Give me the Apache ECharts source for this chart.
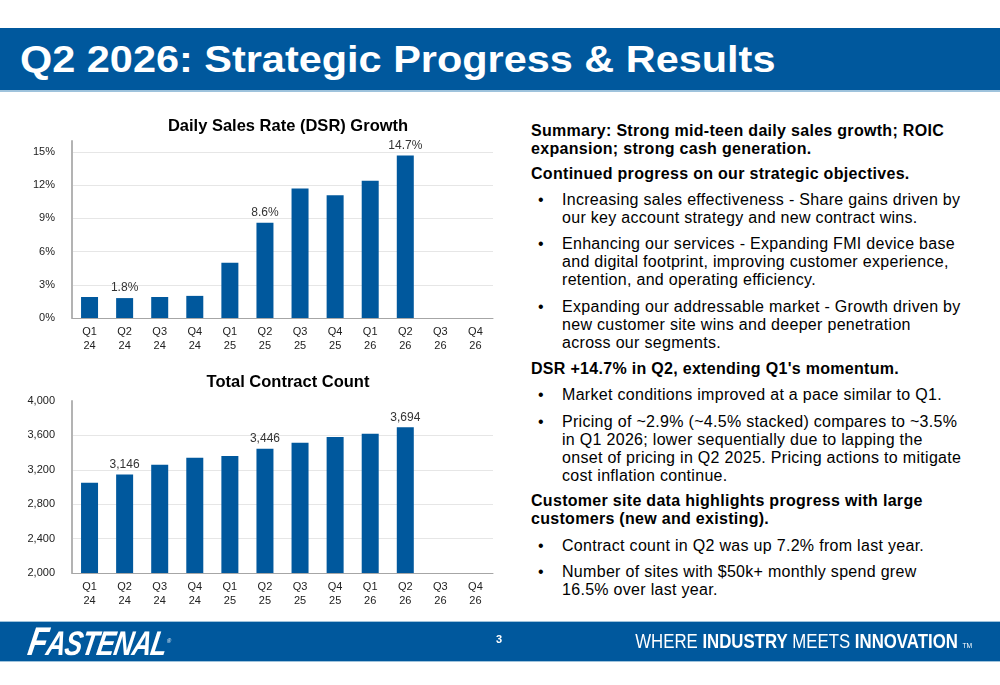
<!DOCTYPE html>
<html>
<head>
<meta charset="utf-8">
<script src="https://cdn.jsdelivr.net/npm/echarts@6/dist/echarts.min.js"></script>
<style>
  html, body { margin: 0; padding: 0; background: #fff; }
  body { width: 1000px; height: 685px; position: relative; overflow: hidden;
         font-family: "Liberation Sans", Arial, sans-serif; color: #000; }
  #chart { position: absolute; left: 0; top: 0; width: 510px; height: 685px; }
  .band { position: absolute; left: 0; width: 1000px; background: #00589d; }
  #head { top: 28px; height: 62px; border-bottom: 2px solid #9fc3dc; }
  #head h1 { margin: 0; position: absolute; left: 20px; top: 11px; font-size: 37px;
             font-weight: bold; color: #fff; white-space: nowrap;
             transform: scaleX(1.12); transform-origin: left center; }
  #foot { top: 621px; height: 39px; border-top: 1px solid #9fc3dc; border-bottom: 1px solid #9fc3dc; }
  .logo { position: absolute; left: 29px; top: -3px; color: #fff; font-weight: bold; font-style: italic;
          font-size: 34px; letter-spacing: -1px; white-space: nowrap;
          transform: skewX(-10deg) scaleX(0.78); transform-origin: left center; }
  .logo big { font-size: 40px; }
  .logo sup { font-size: 7px; font-style: normal; font-weight: normal; }
  .pg { position: absolute; left: 496px; top: 11px; color: #fff; font-size: 11px; font-weight: bold; }
  .tag { position: absolute; right: 28px; top: 8px; color: #fff; font-size: 20px; white-space: nowrap;
         transform: scaleX(0.84); transform-origin: right center; }
  .tag b { font-weight: bold; }
  .tag small { font-size: 8px; }
  .txt { position: absolute; left: 531px; width: 460px; font-size: 16px; letter-spacing: 0.3px;
         line-height: 18px; white-space: nowrap; }
  .txt.h { font-weight: bold; letter-spacing: 0.3px; }
  .txt.li { left: 562px; }
  .txt.li::before { content: "\2022"; position: absolute; left: -24px; }
</style>
</head>
<body>
<div class="band" id="head"><h1>Q2 2026: Strategic Progress &amp; Results</h1></div>
<div id="chart"></div>

<div class="txt h" style="top:122px">Summary: Strong mid-teen daily sales growth; ROIC<br>expansion; strong cash generation.</div>
<div class="txt h" style="top:165px">Continued progress on our strategic objectives.</div>
<div class="txt li" style="top:191px">Increasing sales effectiveness - Share gains driven by<br>our key account strategy and new contract wins.</div>
<div class="txt li" style="top:235px">Enhancing our services - Expanding FMI device base<br>and digital footprint, improving customer experience,<br>retention, and operating efficiency.</div>
<div class="txt li" style="top:298px">Expanding our addressable market - Growth driven by<br>new customer site wins and deeper penetration<br>across our segments.</div>
<div class="txt h" style="top:360px">DSR +14.7% in Q2, extending Q1's momentum.</div>
<div class="txt li" style="top:386px">Market conditions improved at a pace similar to Q1.</div>
<div class="txt li" style="top:413px">Pricing of ~2.9% (~4.5% stacked) compares to ~3.5%<br>in Q1 2026; lower sequentially due to lapping the<br>onset of pricing in Q2 2025. Pricing actions to mitigate<br>cost inflation continue.</div>
<div class="txt h" style="top:492px">Customer site data highlights progress with large<br>customers (new and existing).</div>
<div class="txt li" style="top:537px">Contract count in Q2 was up 7.2% from last year.</div>
<div class="txt li" style="top:563px">Number of sites with $50k+ monthly spend grew<br>16.5% over last year.</div>

<div class="band" id="foot">
  <div class="logo"><big>F</big>ASTENAL<sup>®</sup></div>
  <div class="pg">3</div>
  <div class="tag">WHERE <b>INDUSTRY</b> MEETS <b>INNOVATION</b> <small>TM</small></div>
</div>

<script>
var chartDom = document.getElementById('chart');
var myChart = echarts.init(chartDom);
var option;

// quarters shown on both charts
const quarters = ['Q1\n24', 'Q2\n24', 'Q3\n24', 'Q4\n24', 'Q1\n25', 'Q2\n25',
                  'Q3\n25', 'Q4\n25', 'Q1\n26', 'Q2\n26', 'Q3\n26', 'Q4\n26'];
// DSR growth, % (Q3/Q4 26 not reported yet)
const dsrValues = [1.9, 1.8, 1.9, 2.0, 5.0, 8.6, 11.7, 11.1, 12.4, 14.7, null, null];
const dsrLabelled = [1, 5, 9];
// total contract count
const contractValues = [3050, 3146, 3260, 3340, 3360, 3446, 3515, 3580, 3620, 3694, null, null];
const contractLabelled = [1, 5, 9];

const blue = '#00589d';

function withLabels(values, labelled) {
  return values.map(function (v, i) {
    return labelled.indexOf(i) >= 0 ? { value: v, label: { show: true } } : v;
  });
}

const xAxisBase = {
  type: 'category',
  data: quarters,
  axisTick: { show: false },
  axisLine: { lineStyle: { color: '#a6a6a6', width: 1 } },
  axisLabel: { color: '#222', fontSize: 11, lineHeight: 14, margin: 7, fontFamily: 'Liberation Sans' }
};

const yAxisBase = {
  type: 'value',
  axisLine: { show: true, lineStyle: { color: '#b3b3b3', width: 2 } },
  axisTick: { show: false },
  splitLine: { lineStyle: { color: '#e6e6e6' }, showMaxLine: false },
  axisLabel: { color: '#222', fontSize: 11, margin: 17, fontFamily: 'Liberation Sans', showMaxLabel: false }
};

const labelStyle = { position: 'top', color: '#333', fontSize: 12, distance: 4, fontFamily: 'Liberation Sans' };

option = {
  animation: false,
  title: [
    { text: 'Daily Sales Rate (DSR) Growth', left: 283, top: 113, textAlign: 'center',
      textStyle: { fontSize: 16.5, fontWeight: 'bold', color: '#000', fontFamily: 'Liberation Sans' } },
    { text: 'Total Contract Count', left: 283, top: 369, textAlign: 'center',
      textStyle: { fontSize: 16.5, fontWeight: 'bold', color: '#000', fontFamily: 'Liberation Sans' } }
  ],
  grid: [
    { left: 72, right: 17, top: 141, height: 177 },
    { left: 72, right: 17, top: 401, height: 172 }
  ],
  xAxis: [
    Object.assign({ gridIndex: 0 }, xAxisBase),
    Object.assign({ gridIndex: 1 }, xAxisBase)
  ],
  yAxis: [
    Object.assign({}, yAxisBase, { gridIndex: 0, min: 0, max: 16, interval: 3,
      axisLabel: Object.assign({}, yAxisBase.axisLabel, { formatter: '{value}%' }) }),
    Object.assign({}, yAxisBase, { gridIndex: 1, min: 2000, max: 4000, interval: 400,
      axisLabel: Object.assign({}, yAxisBase.axisLabel, { showMaxLabel: true,
        formatter: function (v) { return v.toLocaleString('en-US'); } }) })
  ],
  series: [
    {
      type: 'bar', xAxisIndex: 0, yAxisIndex: 0, barWidth: 17,
      data: withLabels(dsrValues, dsrLabelled),
      itemStyle: { color: blue },
      label: Object.assign({ formatter: function (p) { return p.value.toFixed(1) + '%'; } }, labelStyle)
    },
    {
      type: 'bar', xAxisIndex: 1, yAxisIndex: 1, barWidth: 17,
      data: withLabels(contractValues, contractLabelled),
      itemStyle: { color: blue },
      label: Object.assign({ formatter: function (p) { return p.value.toLocaleString('en-US'); } }, labelStyle)
    }
  ]
};

option && myChart.setOption(option);
</script>
</body>
</html>
